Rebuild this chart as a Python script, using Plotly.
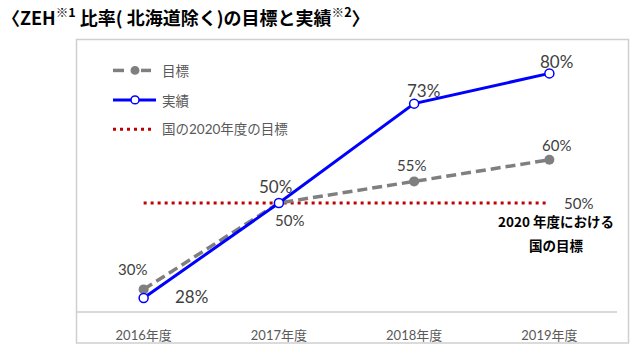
import plotly.graph_objects as go

categories = ["2016年度", "2017年度", "2018年度", "2019年度"]
target = [30, 50, 55, 60]
actual = [28, 50, 73, 80]
national_target = [50, 50, 50, 50]

W, H = 640, 355
L, R, T, B = 76, 617, 40, 316  # plot area in pixels

def px(x):
    return (x - L) / (R - L)

def py(y):
    return (B - y) / (B - T)

FONT = "Lato, Noto Sans CJK JP, sans-serif"
JFONT = "Noto Sans CJK JP, sans-serif"
GRAY = "#7F7F7F"
BLUE = "#0000FF"
RED = "#C00000"
TXT = "#404040"

x_idx = list(range(len(categories)))

fig = go.Figure()
fig.add_trace(go.Scatter(x=x_idx, y=national_target, mode="lines",
                         line=dict(color=RED, width=3, dash="3px,4px"),
                         hoverinfo="skip", showlegend=False))
fig.add_trace(go.Scatter(x=x_idx, y=target, mode="lines+markers",
                         line=dict(color=GRAY, width=3.5, dash="10px,5px"),
                         marker=dict(color=GRAY, size=10),
                         showlegend=False))
fig.add_trace(go.Scatter(x=x_idx, y=actual, mode="lines+markers",
                         line=dict(color=BLUE, width=3),
                         marker=dict(color="white", size=9, line=dict(color=BLUE, width=1.5)),
                         showlegend=False))

ann = []
def a(x, y, text, size=13, color=TXT, xanchor="center", bold=False, xref="x", yref="y", xs=0, ys=0, family=FONT):
    ann.append(dict(x=x, y=y, xref=xref, yref=yref, text=(f"<b>{text}</b>" if bold else text),
                    showarrow=False, xanchor=xanchor, yanchor="middle",
                    xshift=xs, yshift=ys,
                    font=dict(size=size, color=color, family=family)))

SMALL, BIG = 15, 17
# data labels (offsets in pixels relative to points)
a(0, target[0], f"{target[0]}%", SMALL, xs=-11, ys=20)
a(0, actual[0], f"{actual[0]}%", BIG, xs=48, ys=2)
a(1, actual[1], f"{actual[1]}%", BIG, xs=-3, ys=16)
a(1, target[1], f"{target[1]}%", SMALL, xs=11, ys=-17)
a(2, actual[2], f"{actual[2]}%", BIG, xs=9, ys=13)
a(3, actual[3], f"{actual[3]}%", BIG, xs=7, ys=12)
a(2, target[2], f"{target[2]}%", SMALL, xs=-3, ys=16)
a(3, target[3], f"{target[3]}%", SMALL, xs=7, ys=15)
a(3, national_target[3], f"{national_target[3]}%", SMALL, xs=29, ys=0)
a(3, national_target[3], "2020 年度における", 13.5, color="#000000", bold=True, xs=7, ys=-18, family=JFONT)
a(3, national_target[3], "国の目標", 13.5, color="#000000", bold=True, xs=7, ys=-42, family=JFONT)

# legend text
a(px(160), py(71), "目標", 13.5, color="#595959", xanchor="left", xref="paper", yref="paper", family=JFONT)
a(px(160), py(101), "実績", 13.5, color="#595959", xanchor="left", xref="paper", yref="paper", family=JFONT)
a(px(160), py(131), "国の2020年度の目標", 13.5, color="#595959", xanchor="left", xref="paper", yref="paper", family=FONT)

# title
ann.append(dict(x=px(0), y=py(16), xref="paper", yref="paper", showarrow=False,
                xanchor="left", yanchor="middle",
                text="<b>〈ZEH<sup>※1</sup> 比率( 北海道除く)の目標と実績<sup>※2</sup>〉</b>",
                font=dict(size=18, color="#000000", family=JFONT)))

shapes = []
# outer box
shapes.append(dict(type="rect", xref="paper", yref="paper",
                   x0=px(76.5), x1=px(628.5), y0=py(348.5), y1=py(39.5),
                   line=dict(color="#D0D0D0", width=1.5)))
# legend: target
shapes.append(dict(type="line", xref="paper", yref="paper", x0=px(113), x1=px(124), y0=py(71), y1=py(71),
                   line=dict(color=GRAY, width=3.5)))
shapes.append(dict(type="line", xref="paper", yref="paper", x0=px(141), x1=px(151), y0=py(71), y1=py(71),
                   line=dict(color=GRAY, width=3.5)))
shapes.append(dict(type="circle", xref="paper", yref="paper", x0=px(130.5), x1=px(139.5), y0=py(75.5), y1=py(66.5),
                   fillcolor=GRAY, line=dict(color=GRAY, width=0)))
# legend: actual
shapes.append(dict(type="line", xref="paper", yref="paper", x0=px(113), x1=px(156), y0=py(101), y1=py(101),
                   line=dict(color=BLUE, width=3)))
shapes.append(dict(type="circle", xref="paper", yref="paper", x0=px(131), x1=px(139), y0=py(105), y1=py(97),
                   fillcolor="white", line=dict(color=BLUE, width=1.5)))
# legend: national target
shapes.append(dict(type="line", xref="paper", yref="paper", x0=px(113), x1=px(152), y0=py(131), y1=py(131),
                   line=dict(color=RED, width=3, dash="3px,4px")))

fig.update_layout(
    width=W, height=H,
    margin=dict(l=L, r=W - R, t=T, b=H - B),
    paper_bgcolor="white", plot_bgcolor="white",
    annotations=ann, shapes=shapes,
    xaxis=dict(range=[-0.5, 3.5], tickmode="array", tickvals=x_idx, ticktext=categories,
               showgrid=False, zeroline=False, showline=True, linecolor="#D9D9D9", linewidth=2,
               ticks="", ticklabelstandoff=11,
               tickfont=dict(size=13, color="#595959", family=FONT), fixedrange=True),
    yaxis=dict(range=[25, 25 + (B - T) / 4.4], visible=False, showgrid=False, zeroline=False, fixedrange=True),
    showlegend=False,
)

fig.write_html("out.html", config={"displayModeBar": False},
               post_script="document.body.style.margin='0';document.body.style.overflow='hidden';")
